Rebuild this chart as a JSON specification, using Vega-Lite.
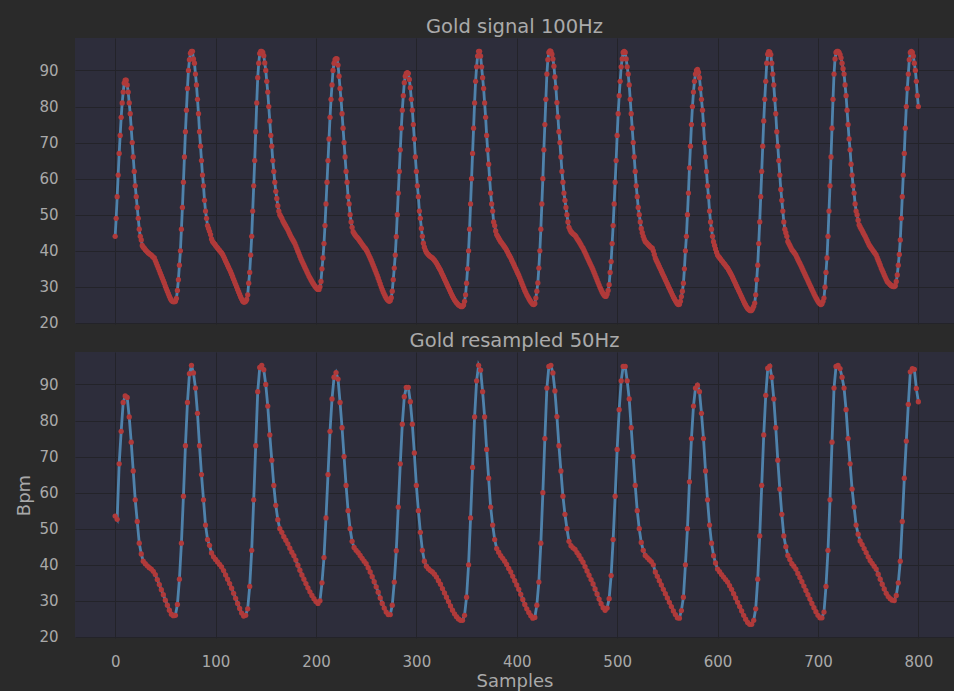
{
"$schema": "https://vega.github.io/schema/vega-lite/v6.json",
"background": "#2a2a2a",
"padding": {"left": 15, "top": 17, "right": 0, "bottom": 0},
"config": {
"font": "DejaVu Sans",
"view": {"fill": "#2d2d3b", "stroke": null},
"axis": {"grid": true, "gridColor": "#232329", "gridWidth": 1, "domain": false, "ticks": false, "labelColor": "#a9a9a9", "labelFontSize": 15, "labelPadding": 17, "titleColor": "#a9a9a9", "titleFontSize": 18, "titleFontWeight": "normal"},
"title": {"color": "#aaaaaa", "fontSize": 19.5, "fontWeight": "normal", "offset": 0.5},
"concat": {"spacing": 0}
},
"datasets": {
"gold": [
{"x":0,"y":44},{"x":1,"y":49},{"x":2,"y":55},{"x":3,"y":61},{"x":4,"y":67},{"x":5,"y":72},{"x":6,"y":77},{"x":7,"y":81},{"x":8,"y":84},{"x":9,"y":86.5},
{"x":10,"y":87.3},{"x":11,"y":87.3},{"x":12,"y":86},{"x":13,"y":84},{"x":14,"y":81},{"x":15,"y":78},{"x":16,"y":74},{"x":17,"y":70},{"x":18,"y":66},{"x":19,"y":62},
{"x":20,"y":58},{"x":21,"y":55},{"x":22,"y":52},{"x":23,"y":49},{"x":24,"y":46},{"x":25,"y":44},{"x":26,"y":43},{"x":27,"y":41.5},{"x":28,"y":41},{"x":29,"y":40.7},
{"x":30,"y":40.3},{"x":31,"y":40},{"x":32,"y":39.7},{"x":33,"y":39.4},{"x":34,"y":39.2},{"x":35,"y":39},{"x":36,"y":38.8},{"x":37,"y":38.5},{"x":38,"y":38.2},{"x":39,"y":38},
{"x":40,"y":37.3},{"x":41,"y":36.6},{"x":42,"y":35.9},{"x":43,"y":35.2},{"x":44,"y":34.5},{"x":45,"y":33.8},{"x":46,"y":33.1},{"x":47,"y":32.4},{"x":48,"y":31.7},{"x":49,"y":31},
{"x":50,"y":30.2},{"x":51,"y":29.5},{"x":52,"y":28.8},{"x":53,"y":28.1},{"x":54,"y":27.4},{"x":55,"y":26.8},{"x":56,"y":26.3},{"x":57,"y":26},{"x":58,"y":25.9},{"x":59,"y":25.9},
{"x":60,"y":26},{"x":61,"y":26.8},{"x":62,"y":29},{"x":63,"y":32},{"x":64,"y":36},{"x":65,"y":40},{"x":66,"y":46},{"x":67,"y":52},{"x":68,"y":59},{"x":69,"y":66},
{"x":70,"y":73},{"x":71,"y":79},{"x":72,"y":85},{"x":73,"y":90},{"x":74,"y":93},{"x":75,"y":94.8},{"x":76,"y":95.3},{"x":77,"y":95.3},{"x":78,"y":93.2},{"x":79,"y":92},
{"x":80,"y":89},{"x":81,"y":86},{"x":82,"y":82},{"x":83,"y":78},{"x":84,"y":73},{"x":85,"y":69},{"x":86,"y":65},{"x":87,"y":61},{"x":88,"y":58},{"x":89,"y":54},
{"x":90,"y":51},{"x":91,"y":49},{"x":92,"y":47},{"x":93,"y":46.2},{"x":94,"y":45.4},{"x":95,"y":44.5},{"x":96,"y":43.3},{"x":97,"y":42.6},{"x":98,"y":42.2},{"x":99,"y":41.9},
{"x":100,"y":41.5},{"x":101,"y":41.1},{"x":102,"y":40.8},{"x":103,"y":40.4},{"x":104,"y":40.1},{"x":105,"y":39.7},{"x":106,"y":39.4},{"x":107,"y":39},{"x":108,"y":38.4},{"x":109,"y":37.8},
{"x":110,"y":37.2},{"x":111,"y":36.6},{"x":112,"y":36},{"x":113,"y":35.4},{"x":114,"y":34.8},{"x":115,"y":34.2},{"x":116,"y":33.5},{"x":117,"y":32.8},{"x":118,"y":32.1},{"x":119,"y":31.4},
{"x":120,"y":30.7},{"x":121,"y":30},{"x":122,"y":29.3},{"x":123,"y":28.6},{"x":124,"y":27.9},{"x":125,"y":27.2},{"x":126,"y":26.6},{"x":127,"y":26.1},{"x":128,"y":25.8},{"x":129,"y":25.8},
{"x":130,"y":26},{"x":131,"y":26.5},{"x":132,"y":27.8},{"x":133,"y":31},{"x":134,"y":34},{"x":135,"y":38.8},{"x":136,"y":44},{"x":137,"y":51},{"x":138,"y":58},{"x":139,"y":65},
{"x":140,"y":73},{"x":141,"y":81},{"x":142,"y":88},{"x":143,"y":92},{"x":144,"y":94.7},{"x":145,"y":95.3},{"x":146,"y":95.3},{"x":147,"y":95},{"x":148,"y":94.1},{"x":149,"y":92.1},
{"x":150,"y":90},{"x":151,"y":87},{"x":152,"y":84},{"x":153,"y":80},{"x":154,"y":76},{"x":155,"y":72},{"x":156,"y":69},{"x":157,"y":65},{"x":158,"y":62},{"x":159,"y":59},
{"x":160,"y":56.5},{"x":161,"y":54.5},{"x":162,"y":52.5},{"x":163,"y":51},{"x":164,"y":50},{"x":165,"y":49.5},{"x":166,"y":49},{"x":167,"y":48.3},{"x":168,"y":47.8},{"x":169,"y":47.3},
{"x":170,"y":46.8},{"x":171,"y":46.3},{"x":172,"y":45.8},{"x":173,"y":45.2},{"x":174,"y":44.6},{"x":175,"y":44},{"x":176,"y":43.5},{"x":177,"y":43},{"x":178,"y":42.5},{"x":179,"y":42},
{"x":180,"y":41.3},{"x":181,"y":40.6},{"x":182,"y":39.9},{"x":183,"y":39.2},{"x":184,"y":38.5},{"x":185,"y":37.8},{"x":186,"y":37.2},{"x":187,"y":36.6},{"x":188,"y":36},{"x":189,"y":35.4},
{"x":190,"y":34.8},{"x":191,"y":34.2},{"x":192,"y":33.6},{"x":193,"y":33},{"x":194,"y":32.5},{"x":195,"y":32},{"x":196,"y":31.5},{"x":197,"y":31},{"x":198,"y":30.6},{"x":199,"y":30.2},
{"x":200,"y":29.8},{"x":201,"y":29.5},{"x":202,"y":29.3},{"x":203,"y":29.3},{"x":204,"y":30},{"x":205,"y":31.5},{"x":206,"y":35},{"x":207,"y":38},{"x":208,"y":42},{"x":209,"y":47},
{"x":210,"y":53},{"x":211,"y":59},{"x":212,"y":65},{"x":213,"y":71},{"x":214,"y":77},{"x":215,"y":82},{"x":216,"y":86},{"x":217,"y":90},{"x":218,"y":92},{"x":219,"y":93},
{"x":220,"y":93.3},{"x":221,"y":93.2},{"x":222,"y":91.5},{"x":223,"y":88.4},{"x":224,"y":85},{"x":225,"y":82},{"x":226,"y":78},{"x":227,"y":74},{"x":228,"y":70},{"x":229,"y":66},
{"x":230,"y":62},{"x":231,"y":59},{"x":232,"y":55},{"x":233,"y":53},{"x":234,"y":50},{"x":235,"y":48},{"x":236,"y":46.5},{"x":237,"y":45.3},{"x":238,"y":44.8},{"x":239,"y":44.4},
{"x":240,"y":44},{"x":241,"y":43.7},{"x":242,"y":43.4},{"x":243,"y":43},{"x":244,"y":42.6},{"x":245,"y":42.2},{"x":246,"y":41.8},{"x":247,"y":41.4},{"x":248,"y":41},{"x":249,"y":40.7},
{"x":250,"y":40.3},{"x":251,"y":39.8},{"x":252,"y":39.2},{"x":253,"y":38.6},{"x":254,"y":38},{"x":255,"y":37.4},{"x":256,"y":36.7},{"x":257,"y":36},{"x":258,"y":35.3},{"x":259,"y":34.6},
{"x":260,"y":33.9},{"x":261,"y":33.2},{"x":262,"y":32.4},{"x":263,"y":31.6},{"x":264,"y":30.8},{"x":265,"y":30},{"x":266,"y":29.3},{"x":267,"y":28.6},{"x":268,"y":28},{"x":269,"y":27.4},
{"x":270,"y":26.9},{"x":271,"y":26.5},{"x":272,"y":26.2},{"x":273,"y":26},{"x":274,"y":26.2},{"x":275,"y":27},{"x":276,"y":28.8},{"x":277,"y":32},{"x":278,"y":35.2},{"x":279,"y":38.8},
{"x":280,"y":43.9},{"x":281,"y":50},{"x":282,"y":56},{"x":283,"y":62},{"x":284,"y":68},{"x":285,"y":74},{"x":286,"y":79},{"x":287,"y":83},{"x":288,"y":86.6},{"x":289,"y":88.4},
{"x":290,"y":89.2},{"x":291,"y":89.4},{"x":292,"y":89.2},{"x":293,"y":87.5},{"x":294,"y":85.2},{"x":295,"y":82},{"x":296,"y":79},{"x":297,"y":75},{"x":298,"y":71},{"x":299,"y":66},
{"x":300,"y":62},{"x":301,"y":58},{"x":302,"y":55},{"x":303,"y":51},{"x":304,"y":49},{"x":305,"y":46.2},{"x":306,"y":44},{"x":307,"y":42.1},{"x":308,"y":41},{"x":309,"y":40.2},
{"x":310,"y":39.6},{"x":311,"y":39.2},{"x":312,"y":38.9},{"x":313,"y":38.6},{"x":314,"y":38.4},{"x":315,"y":38.2},{"x":316,"y":38},{"x":317,"y":37.7},{"x":318,"y":37.4},{"x":319,"y":37},
{"x":320,"y":36.6},{"x":321,"y":36.1},{"x":322,"y":35.6},{"x":323,"y":35.1},{"x":324,"y":34.6},{"x":325,"y":34},{"x":326,"y":33.4},{"x":327,"y":32.8},{"x":328,"y":32.2},{"x":329,"y":31.6},
{"x":330,"y":31},{"x":331,"y":30.4},{"x":332,"y":29.8},{"x":333,"y":29.2},{"x":334,"y":28.6},{"x":335,"y":28},{"x":336,"y":27.4},{"x":337,"y":26.9},{"x":338,"y":26.4},{"x":339,"y":26},
{"x":340,"y":25.6},{"x":341,"y":25.3},{"x":342,"y":25},{"x":343,"y":24.8},{"x":344,"y":24.6},{"x":345,"y":24.5},{"x":346,"y":24.6},{"x":347,"y":25},{"x":348,"y":26},{"x":349,"y":27.8},
{"x":350,"y":31},{"x":351,"y":35},{"x":352,"y":40},{"x":353,"y":46},{"x":354,"y":53},{"x":355,"y":60},{"x":356,"y":67},{"x":357,"y":74},{"x":358,"y":81},{"x":359,"y":87},
{"x":360,"y":91},{"x":361,"y":94},{"x":362,"y":95.3},{"x":363,"y":95.3},{"x":364,"y":94},{"x":365,"y":91},{"x":366,"y":88},{"x":367,"y":85},{"x":368,"y":81},{"x":369,"y":77},
{"x":370,"y":72},{"x":371,"y":68},{"x":372,"y":64},{"x":373,"y":60},{"x":374,"y":56},{"x":375,"y":53},{"x":376,"y":51},{"x":377,"y":48},{"x":378,"y":47},{"x":379,"y":45.5},
{"x":380,"y":44.5},{"x":381,"y":44},{"x":382,"y":43.5},{"x":383,"y":43},{"x":384,"y":42.5},{"x":385,"y":42.2},{"x":386,"y":41.8},{"x":387,"y":41.4},{"x":388,"y":41},{"x":389,"y":40.6},
{"x":390,"y":40.1},{"x":391,"y":39.6},{"x":392,"y":39},{"x":393,"y":38.5},{"x":394,"y":38},{"x":395,"y":37.4},{"x":396,"y":36.8},{"x":397,"y":36.2},{"x":398,"y":35.6},{"x":399,"y":35},
{"x":400,"y":34.4},{"x":401,"y":33.8},{"x":402,"y":33.2},{"x":403,"y":32.5},{"x":404,"y":31.8},{"x":405,"y":31.1},{"x":406,"y":30.4},{"x":407,"y":29.7},{"x":408,"y":29},{"x":409,"y":28.4},
{"x":410,"y":27.8},{"x":411,"y":27.3},{"x":412,"y":26.8},{"x":413,"y":26.3},{"x":414,"y":25.9},{"x":415,"y":25.5},{"x":416,"y":25.2},{"x":417,"y":25.1},{"x":418,"y":25.4},{"x":419,"y":26.9},
{"x":420,"y":28.8},{"x":421,"y":31.1},{"x":422,"y":35.2},{"x":423,"y":40},{"x":424,"y":46},{"x":425,"y":53},{"x":426,"y":60},{"x":427,"y":68},{"x":428,"y":75},{"x":429,"y":82},
{"x":430,"y":89},{"x":431,"y":93},{"x":432,"y":95},{"x":433,"y":95.4},{"x":434,"y":95.3},{"x":435,"y":94.5},{"x":436,"y":93.2},{"x":437,"y":91.2},{"x":438,"y":88.2},{"x":439,"y":85.2},
{"x":440,"y":81.1},{"x":441,"y":77.1},{"x":442,"y":73},{"x":443,"y":70},{"x":444,"y":66},{"x":445,"y":62},{"x":446,"y":59},{"x":447,"y":56},{"x":448,"y":54},{"x":449,"y":52},
{"x":450,"y":50},{"x":451,"y":48},{"x":452,"y":46.5},{"x":453,"y":45.8},{"x":454,"y":45.3},{"x":455,"y":45},{"x":456,"y":44.7},{"x":457,"y":44.5},{"x":458,"y":44.3},{"x":459,"y":43.9},
{"x":460,"y":43.4},{"x":461,"y":43},{"x":462,"y":42.6},{"x":463,"y":42.1},{"x":464,"y":41.6},{"x":465,"y":41.1},{"x":466,"y":40.7},{"x":467,"y":40.1},{"x":468,"y":39.5},{"x":469,"y":38.9},
{"x":470,"y":38.3},{"x":471,"y":37.7},{"x":472,"y":37.1},{"x":473,"y":36.5},{"x":474,"y":35.9},{"x":475,"y":35.3},{"x":476,"y":34.7},{"x":477,"y":34},{"x":478,"y":33.3},{"x":479,"y":32.6},
{"x":480,"y":31.9},{"x":481,"y":31.2},{"x":482,"y":30.5},{"x":483,"y":29.8},{"x":484,"y":29.2},{"x":485,"y":28.6},{"x":486,"y":28.1},{"x":487,"y":27.7},{"x":488,"y":27.4},{"x":489,"y":27.4},
{"x":490,"y":28},{"x":491,"y":29},{"x":492,"y":30.6},{"x":493,"y":34},{"x":494,"y":37},{"x":495,"y":42},{"x":496,"y":47},{"x":497,"y":53},{"x":498,"y":59},{"x":499,"y":65},
{"x":500,"y":72},{"x":501,"y":78},{"x":502,"y":83},{"x":503,"y":87},{"x":504,"y":91},{"x":505,"y":93.2},{"x":506,"y":95},{"x":507,"y":95.3},{"x":508,"y":95},{"x":509,"y":93.2},
{"x":510,"y":91},{"x":511,"y":89},{"x":512,"y":86},{"x":513,"y":82},{"x":514,"y":78},{"x":515,"y":74},{"x":516,"y":70},{"x":517,"y":66},{"x":518,"y":62},{"x":519,"y":58},
{"x":520,"y":55},{"x":521,"y":52},{"x":522,"y":50},{"x":523,"y":48},{"x":524,"y":46.2},{"x":525,"y":45},{"x":526,"y":44},{"x":527,"y":43.2},{"x":528,"y":42.6},{"x":529,"y":42.3},
{"x":530,"y":42},{"x":531,"y":41.7},{"x":532,"y":41.4},{"x":533,"y":41.1},{"x":534,"y":40.9},{"x":535,"y":40.7},{"x":536,"y":40},{"x":537,"y":39},{"x":538,"y":38},{"x":539,"y":37.4},
{"x":540,"y":36.8},{"x":541,"y":36.2},{"x":542,"y":35.6},{"x":543,"y":35},{"x":544,"y":34.4},{"x":545,"y":33.8},{"x":546,"y":33.2},{"x":547,"y":32.6},{"x":548,"y":32},{"x":549,"y":31.4},
{"x":550,"y":30.8},{"x":551,"y":30.2},{"x":552,"y":29.6},{"x":553,"y":29},{"x":554,"y":28.4},{"x":555,"y":27.8},{"x":556,"y":27.2},{"x":557,"y":26.7},{"x":558,"y":26.2},{"x":559,"y":25.7},
{"x":560,"y":25.3},{"x":561,"y":25.1},{"x":562,"y":25.2},{"x":563,"y":26},{"x":564,"y":27.3},{"x":565,"y":28.8},{"x":566,"y":31},{"x":567,"y":35},{"x":568,"y":40},{"x":569,"y":44},
{"x":570,"y":50},{"x":571,"y":56},{"x":572,"y":63},{"x":573,"y":69},{"x":574,"y":75},{"x":575,"y":80},{"x":576,"y":84},{"x":577,"y":87},{"x":578,"y":89},{"x":579,"y":90},
{"x":580,"y":90.3},{"x":581,"y":89.5},{"x":582,"y":88},{"x":583,"y":85},{"x":584,"y":82},{"x":585,"y":79},{"x":586,"y":75},{"x":587,"y":70},{"x":588,"y":66},{"x":589,"y":62},
{"x":590,"y":58},{"x":591,"y":55},{"x":592,"y":51},{"x":593,"y":48},{"x":594,"y":46},{"x":595,"y":44},{"x":596,"y":42.5},{"x":597,"y":41.5},{"x":598,"y":40.5},{"x":599,"y":39.6},
{"x":600,"y":38.8},{"x":601,"y":38.4},{"x":602,"y":38.1},{"x":603,"y":37.7},{"x":604,"y":37.3},{"x":605,"y":37},{"x":606,"y":36.6},{"x":607,"y":36.3},{"x":608,"y":35.9},{"x":609,"y":35.5},
{"x":610,"y":35.2},{"x":611,"y":34.7},{"x":612,"y":34.2},{"x":613,"y":33.7},{"x":614,"y":33.2},{"x":615,"y":32.6},{"x":616,"y":32},{"x":617,"y":31.4},{"x":618,"y":30.8},{"x":619,"y":30.2},
{"x":620,"y":29.6},{"x":621,"y":29},{"x":622,"y":28.4},{"x":623,"y":27.8},{"x":624,"y":27.2},{"x":625,"y":26.6},{"x":626,"y":26},{"x":627,"y":25.4},{"x":628,"y":24.9},{"x":629,"y":24.4},
{"x":630,"y":24},{"x":631,"y":23.7},{"x":632,"y":23.5},{"x":633,"y":23.4},{"x":634,"y":23.5},{"x":635,"y":24},{"x":636,"y":24.6},{"x":637,"y":25.5},{"x":638,"y":27.8},{"x":639,"y":32},
{"x":640,"y":36},{"x":641,"y":42},{"x":642,"y":48},{"x":643,"y":55},{"x":644,"y":62},{"x":645,"y":69},{"x":646,"y":76},{"x":647,"y":82},{"x":648,"y":87},{"x":649,"y":92},
{"x":650,"y":94.5},{"x":651,"y":95.2},{"x":652,"y":95.1},{"x":653,"y":94.4},{"x":654,"y":92},{"x":655,"y":89},{"x":656,"y":86},{"x":657,"y":82},{"x":658,"y":78},{"x":659,"y":73},
{"x":660,"y":69},{"x":661,"y":65},{"x":662,"y":61},{"x":663,"y":57},{"x":664,"y":54},{"x":665,"y":51},{"x":666,"y":48},{"x":667,"y":46},{"x":668,"y":45},{"x":669,"y":44},
{"x":670,"y":42.6},{"x":671,"y":42},{"x":672,"y":41.5},{"x":673,"y":40.9},{"x":674,"y":40.3},{"x":675,"y":40},{"x":676,"y":39.6},{"x":677,"y":39.2},{"x":678,"y":38.8},{"x":679,"y":38.2},
{"x":680,"y":37.6},{"x":681,"y":37},{"x":682,"y":36.5},{"x":683,"y":35.9},{"x":684,"y":35.3},{"x":685,"y":34.7},{"x":686,"y":34.1},{"x":687,"y":33.5},{"x":688,"y":32.9},{"x":689,"y":32.3},
{"x":690,"y":31.7},{"x":691,"y":31.1},{"x":692,"y":30.5},{"x":693,"y":29.9},{"x":694,"y":29.3},{"x":695,"y":28.7},{"x":696,"y":28.1},{"x":697,"y":27.5},{"x":698,"y":27},{"x":699,"y":26.5},
{"x":700,"y":26},{"x":701,"y":25.6},{"x":702,"y":25.3},{"x":703,"y":25.1},{"x":704,"y":25.3},{"x":705,"y":26},{"x":706,"y":26.9},{"x":707,"y":29.9},{"x":708,"y":34},{"x":709,"y":38},
{"x":710,"y":44},{"x":711,"y":51},{"x":712,"y":58},{"x":713,"y":66},{"x":714,"y":74},{"x":715,"y":82},{"x":716,"y":89},{"x":717,"y":93.2},{"x":718,"y":95},{"x":719,"y":95.3},
{"x":720,"y":95.3},{"x":721,"y":95},{"x":722,"y":94.4},{"x":723,"y":93.5},{"x":724,"y":92},{"x":725,"y":90.5},{"x":726,"y":89},{"x":727,"y":86},{"x":728,"y":83},{"x":729,"y":79},
{"x":730,"y":75},{"x":731,"y":71},{"x":732,"y":68},{"x":733,"y":64},{"x":734,"y":61},{"x":735,"y":58},{"x":736,"y":56},{"x":737,"y":53},{"x":738,"y":51},{"x":739,"y":50},
{"x":740,"y":48.5},{"x":741,"y":47.2},{"x":742,"y":46.6},{"x":743,"y":46.1},{"x":744,"y":45.6},{"x":745,"y":45},{"x":746,"y":44.5},{"x":747,"y":44},{"x":748,"y":43.4},{"x":749,"y":42.8},
{"x":750,"y":42.2},{"x":751,"y":41.6},{"x":752,"y":41.2},{"x":753,"y":40.8},{"x":754,"y":40.4},{"x":755,"y":40},{"x":756,"y":39.6},{"x":757,"y":39.2},{"x":758,"y":38.8},{"x":759,"y":38.1},
{"x":760,"y":37.4},{"x":761,"y":36.7},{"x":762,"y":36},{"x":763,"y":35.2},{"x":764,"y":34.6},{"x":765,"y":34},{"x":766,"y":33.3},{"x":767,"y":32.7},{"x":768,"y":32.1},{"x":769,"y":31.5},
{"x":770,"y":31.2},{"x":771,"y":30.9},{"x":772,"y":30.6},{"x":773,"y":30.4},{"x":774,"y":30.2},{"x":775,"y":30.1},{"x":776,"y":30.1},{"x":777,"y":30.3},{"x":778,"y":31.5},{"x":779,"y":33.3},
{"x":780,"y":36},{"x":781,"y":39},{"x":782,"y":43},{"x":783,"y":49},{"x":784,"y":55},{"x":785,"y":61},{"x":786,"y":67},{"x":787,"y":74},{"x":788,"y":80},{"x":789,"y":85},
{"x":790,"y":89},{"x":791,"y":93},{"x":792,"y":95},{"x":793,"y":95.3},{"x":794,"y":95},{"x":795,"y":94},{"x":796,"y":92},{"x":797,"y":90},{"x":798,"y":87},{"x":799,"y":83},
{"x":800,"y":80}
],
"res": [
{"x":0,"y":53.5},{"x":2,"y":52.6},{"x":4,"y":68},{"x":6,"y":77},{"x":8,"y":85},{"x":10,"y":86.8},{"x":12,"y":86.4},{"x":14,"y":81},{"x":16,"y":74},{"x":18,"y":66},
{"x":20,"y":58},{"x":22,"y":52},{"x":24,"y":46},{"x":26,"y":43},{"x":28,"y":41},{"x":30,"y":40.3},{"x":32,"y":39.7},{"x":34,"y":39.2},{"x":36,"y":38.8},{"x":38,"y":38.2},
{"x":40,"y":37.3},{"x":42,"y":35.9},{"x":44,"y":34.5},{"x":46,"y":33.1},{"x":48,"y":31.7},{"x":50,"y":30.2},{"x":52,"y":28.8},{"x":54,"y":27.4},{"x":56,"y":26.3},{"x":58,"y":25.9},
{"x":60,"y":26},{"x":62,"y":29},{"x":64,"y":36},{"x":66,"y":46},{"x":68,"y":59},{"x":70,"y":73},{"x":72,"y":85},{"x":74,"y":93},{"x":76,"y":95.3},{"x":78,"y":93.2},
{"x":80,"y":89},{"x":82,"y":82},{"x":84,"y":73},{"x":86,"y":65},{"x":88,"y":58},{"x":90,"y":51},{"x":92,"y":47},{"x":94,"y":45.4},{"x":96,"y":43.3},{"x":98,"y":42.2},
{"x":100,"y":41.5},{"x":102,"y":40.8},{"x":104,"y":40.1},{"x":106,"y":39.4},{"x":108,"y":38.4},{"x":110,"y":37.2},{"x":112,"y":36},{"x":114,"y":34.8},{"x":116,"y":33.5},{"x":118,"y":32.1},
{"x":120,"y":30.7},{"x":122,"y":29.3},{"x":124,"y":27.9},{"x":126,"y":26.6},{"x":128,"y":25.8},{"x":130,"y":26},{"x":132,"y":27.8},{"x":134,"y":34},{"x":136,"y":44},{"x":138,"y":58},
{"x":140,"y":73},{"x":142,"y":88},{"x":144,"y":94.7},{"x":146,"y":95.3},{"x":148,"y":94.1},{"x":150,"y":90},{"x":152,"y":84},{"x":154,"y":76},{"x":156,"y":69},{"x":158,"y":62},
{"x":160,"y":56.5},{"x":162,"y":52.5},{"x":164,"y":50},{"x":166,"y":49},{"x":168,"y":47.8},{"x":170,"y":46.8},{"x":172,"y":45.8},{"x":174,"y":44.6},{"x":176,"y":43.5},{"x":178,"y":42.5},
{"x":180,"y":41.3},{"x":182,"y":39.9},{"x":184,"y":38.5},{"x":186,"y":37.2},{"x":188,"y":36},{"x":190,"y":34.8},{"x":192,"y":33.6},{"x":194,"y":32.5},{"x":196,"y":31.5},{"x":198,"y":30.6},
{"x":200,"y":29.8},{"x":202,"y":29.3},{"x":204,"y":30},{"x":206,"y":35},{"x":208,"y":42},{"x":210,"y":53},{"x":212,"y":65},{"x":214,"y":77},{"x":216,"y":86},{"x":218,"y":92},
{"x":220,"y":93.3},{"x":222,"y":91.5},{"x":224,"y":85},{"x":226,"y":78},{"x":228,"y":70},{"x":230,"y":62},{"x":232,"y":55},{"x":234,"y":50},{"x":236,"y":46.5},{"x":238,"y":44.8},
{"x":240,"y":44},{"x":242,"y":43.4},{"x":244,"y":42.6},{"x":246,"y":41.8},{"x":248,"y":41},{"x":250,"y":40.3},{"x":252,"y":39.2},{"x":254,"y":38},{"x":256,"y":36.7},{"x":258,"y":35.3},
{"x":260,"y":33.9},{"x":262,"y":32.4},{"x":264,"y":30.8},{"x":266,"y":29.3},{"x":268,"y":28},{"x":270,"y":26.9},{"x":272,"y":26.2},{"x":274,"y":26.2},{"x":276,"y":28.8},{"x":278,"y":35.2},
{"x":280,"y":43.9},{"x":282,"y":56},{"x":284,"y":68},{"x":286,"y":79},{"x":288,"y":86.6},{"x":290,"y":89.2},{"x":292,"y":89.2},{"x":294,"y":85.2},{"x":296,"y":79},{"x":298,"y":71},
{"x":300,"y":62},{"x":302,"y":55},{"x":304,"y":49},{"x":306,"y":44},{"x":308,"y":41},{"x":310,"y":39.6},{"x":312,"y":38.9},{"x":314,"y":38.4},{"x":316,"y":38},{"x":318,"y":37.4},
{"x":320,"y":36.6},{"x":322,"y":35.6},{"x":324,"y":34.6},{"x":326,"y":33.4},{"x":328,"y":32.2},{"x":330,"y":31},{"x":332,"y":29.8},{"x":334,"y":28.6},{"x":336,"y":27.4},{"x":338,"y":26.4},
{"x":340,"y":25.6},{"x":342,"y":25},{"x":344,"y":24.6},{"x":346,"y":24.6},{"x":348,"y":26},{"x":350,"y":31},{"x":352,"y":40},{"x":354,"y":53},{"x":356,"y":67},{"x":358,"y":81},
{"x":360,"y":91},{"x":362,"y":95.3},{"x":364,"y":94},{"x":366,"y":88},{"x":368,"y":81},{"x":370,"y":72},{"x":372,"y":64},{"x":374,"y":56},{"x":376,"y":51},{"x":378,"y":47},
{"x":380,"y":44.5},{"x":382,"y":43.5},{"x":384,"y":42.5},{"x":386,"y":41.8},{"x":388,"y":41},{"x":390,"y":40.1},{"x":392,"y":39},{"x":394,"y":38},{"x":396,"y":36.8},{"x":398,"y":35.6},
{"x":400,"y":34.4},{"x":402,"y":33.2},{"x":404,"y":31.8},{"x":406,"y":30.4},{"x":408,"y":29},{"x":410,"y":27.8},{"x":412,"y":26.8},{"x":414,"y":25.9},{"x":416,"y":25.2},{"x":418,"y":25.4},
{"x":420,"y":28.8},{"x":422,"y":35.2},{"x":424,"y":46},{"x":426,"y":60},{"x":428,"y":75},{"x":430,"y":89},{"x":432,"y":95},{"x":434,"y":95.3},{"x":436,"y":93.2},{"x":438,"y":88.2},
{"x":440,"y":81.1},{"x":442,"y":73},{"x":444,"y":66},{"x":446,"y":59},{"x":448,"y":54},{"x":450,"y":50},{"x":452,"y":46.5},{"x":454,"y":45.3},{"x":456,"y":44.7},{"x":458,"y":44.3},
{"x":460,"y":43.4},{"x":462,"y":42.6},{"x":464,"y":41.6},{"x":466,"y":40.7},{"x":468,"y":39.5},{"x":470,"y":38.3},{"x":472,"y":37.1},{"x":474,"y":35.9},{"x":476,"y":34.7},{"x":478,"y":33.3},
{"x":480,"y":31.9},{"x":482,"y":30.5},{"x":484,"y":29.2},{"x":486,"y":28.1},{"x":488,"y":27.4},{"x":490,"y":28},{"x":492,"y":30.6},{"x":494,"y":37},{"x":496,"y":47},{"x":498,"y":59},
{"x":500,"y":72},{"x":502,"y":83},{"x":504,"y":91},{"x":506,"y":95},{"x":508,"y":95},{"x":510,"y":91},{"x":512,"y":86},{"x":514,"y":78},{"x":516,"y":70},{"x":518,"y":62},
{"x":520,"y":55},{"x":522,"y":50},{"x":524,"y":46.2},{"x":526,"y":44},{"x":528,"y":42.6},{"x":530,"y":42},{"x":532,"y":41.4},{"x":534,"y":40.9},{"x":536,"y":40},{"x":538,"y":38},
{"x":540,"y":36.8},{"x":542,"y":35.6},{"x":544,"y":34.4},{"x":546,"y":33.2},{"x":548,"y":32},{"x":550,"y":30.8},{"x":552,"y":29.6},{"x":554,"y":28.4},{"x":556,"y":27.2},{"x":558,"y":26.2},
{"x":560,"y":25.3},{"x":562,"y":25.2},{"x":564,"y":27.3},{"x":566,"y":31},{"x":568,"y":40},{"x":570,"y":50},{"x":572,"y":63},{"x":574,"y":75},{"x":576,"y":84},{"x":578,"y":89},
{"x":580,"y":89.8},{"x":582,"y":88},{"x":584,"y":82},{"x":586,"y":75},{"x":588,"y":66},{"x":590,"y":58},{"x":592,"y":51},{"x":594,"y":46},{"x":596,"y":42.5},{"x":598,"y":40.5},
{"x":600,"y":38.8},{"x":602,"y":38.1},{"x":604,"y":37.3},{"x":606,"y":36.6},{"x":608,"y":35.9},{"x":610,"y":35.2},{"x":612,"y":34.2},{"x":614,"y":33.2},{"x":616,"y":32},{"x":618,"y":30.8},
{"x":620,"y":29.6},{"x":622,"y":28.4},{"x":624,"y":27.2},{"x":626,"y":26},{"x":628,"y":24.9},{"x":630,"y":24},{"x":632,"y":23.5},{"x":634,"y":23.5},{"x":636,"y":24.6},{"x":638,"y":27.8},
{"x":640,"y":36},{"x":642,"y":48},{"x":644,"y":62},{"x":646,"y":76},{"x":648,"y":87},{"x":650,"y":94.5},{"x":652,"y":95.1},{"x":654,"y":92},{"x":656,"y":86},{"x":658,"y":78},
{"x":660,"y":69},{"x":662,"y":61},{"x":664,"y":54},{"x":666,"y":48},{"x":668,"y":45},{"x":670,"y":42.6},{"x":672,"y":41.5},{"x":674,"y":40.3},{"x":676,"y":39.6},{"x":678,"y":38.8},
{"x":680,"y":37.6},{"x":682,"y":36.5},{"x":684,"y":35.3},{"x":686,"y":34.1},{"x":688,"y":32.9},{"x":690,"y":31.7},{"x":692,"y":30.5},{"x":694,"y":29.3},{"x":696,"y":28.1},{"x":698,"y":27},
{"x":700,"y":26},{"x":702,"y":25.3},{"x":704,"y":25.3},{"x":706,"y":26.9},{"x":708,"y":34},{"x":710,"y":44},{"x":712,"y":58},{"x":714,"y":74},{"x":716,"y":89},{"x":718,"y":95},
{"x":720,"y":95.3},{"x":722,"y":94.4},{"x":724,"y":92},{"x":726,"y":89},{"x":728,"y":83},{"x":730,"y":75},{"x":732,"y":68},{"x":734,"y":61},{"x":736,"y":56},{"x":738,"y":51},
{"x":740,"y":48.5},{"x":742,"y":46.6},{"x":744,"y":45.6},{"x":746,"y":44.5},{"x":748,"y":43.4},{"x":750,"y":42.2},{"x":752,"y":41.2},{"x":754,"y":40.4},{"x":756,"y":39.6},{"x":758,"y":38.8},
{"x":760,"y":37.4},{"x":762,"y":36},{"x":764,"y":34.6},{"x":766,"y":33.3},{"x":768,"y":32.1},{"x":770,"y":31.2},{"x":772,"y":30.6},{"x":774,"y":30.2},{"x":776,"y":30.1},{"x":778,"y":31.5},
{"x":780,"y":35},{"x":782,"y":41},{"x":784,"y":52},{"x":786,"y":64},{"x":788,"y":74.3},{"x":790,"y":84.5},{"x":792,"y":93.5},{"x":794,"y":94.4},{"x":796,"y":94.2},{"x":798,"y":88.9},
{"x":800,"y":85.2}
]
},
"vconcat": [
{
"title": "Gold signal 100Hz",
"width": 879, "height": 286,
"data": {"name": "gold"},
"encoding": {
"x": {"field": "x", "type": "quantitative", "scale": {"domain": [-40, 835.5], "nice": false, "zero": false}, "axis": {"values": [0,100,200,300,400,500,600,700,800], "labels": false, "labelPadding": 0, "title": null}},
"y": {"field": "y", "type": "quantitative", "scale": {"domain": [19.7, 99], "nice": false, "zero": false}, "axis": {"values": [20,30,40,50,60,70,80,90], "title": null}}
},
"layer": [
{"mark": {"type": "line", "color": "#4f82ab", "strokeWidth": 2.8}},
{"mark": {"type": "circle", "color": "#b03a3a", "opacity": 1, "size": 28}}
]
},
{
"title": "Gold resampled 50Hz",
"width": 879, "height": 286,
"data": {"name": "res"},
"encoding": {
"x": {"field": "x", "type": "quantitative", "scale": {"domain": [-40, 835.5], "nice": false, "zero": false}, "axis": {"values": [0,100,200,300,400,500,600,700,800], "title": "Samples", "labelPadding": 16.5, "titlePadding": 3}},
"y": {"field": "y", "type": "quantitative", "scale": {"domain": [19.7, 99], "nice": false, "zero": false}, "axis": {"values": [20,30,40,50,60,70,80,90], "title": "Bpm", "titlePadding": 5}}
},
"layer": [
{"mark": {"type": "line", "color": "#4f82ab", "strokeWidth": 2.8}},
{"mark": {"type": "circle", "color": "#b03a3a", "opacity": 1, "size": 28}}
]
}
]
}
